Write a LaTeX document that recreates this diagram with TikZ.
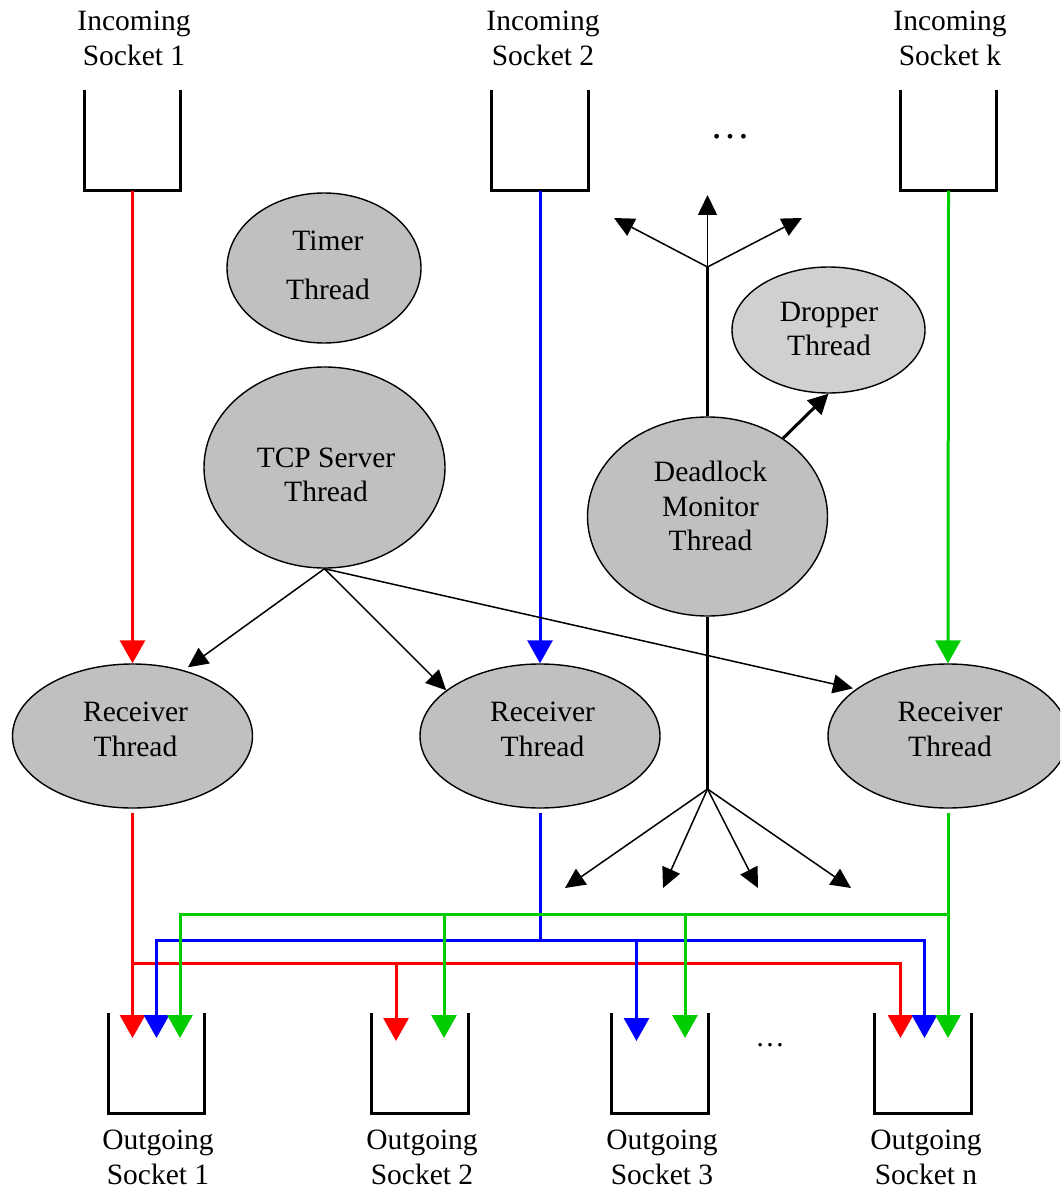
\documentclass[tikz,border=0pt]{standalone}
\usepackage{fontspec}
\setmainfont{Liberation Serif}
\usetikzlibrary{shapes.geometric,arrows.meta}
\definecolor{threadfill}{RGB}{192,192,192}
\definecolor{dropfill}{RGB}{208,208,208}
\definecolor{wred}{RGB}{255,0,0}
\definecolor{wblue}{RGB}{0,0,255}
\definecolor{wgreen}{RGB}{0,204,0}

\begin{document}
\begin{tikzpicture}[x=1pt,y=-1pt,
  txt/.style={font=\fontsize{29.5}{34.5}\selectfont, align=center, inner sep=0pt},
  thread/.style={ellipse, draw, line width=1.4pt, fill=threadfill, inner sep=0pt},
  sock/.style={rectangle, minimum width=96.5pt, minimum height=100pt, inner sep=0pt},
  sockline/.style={line width=3pt, line join=miter},
  wire/.style={line width=3pt, -{Triangle[length=23pt,width=25pt]}},
  bus/.style={line width=3pt},
  ctl/.style={line width=1.5pt, -{Triangle[length=20pt,width=19pt]}},
  trunk/.style={line width=3pt},
]
\clip (0,0) rectangle (1060,1190);

% ---------------- incoming sockets ----------------
\node[sock] (i1) at (132.5,140.5) {};
\node[sock] (i2) at (540,140.5) {};
\node[sock] (ik) at (948.5,140.5) {};
\foreach \s in {i1,i2,ik}
  \draw[sockline] (\s.north west) -- (\s.south west) -- (\s.south east) -- (\s.north east);
\node[txt] (li1) at (134,38.3) {Incoming\\Socket 1};
\node[txt] (li2) at (543,38.3) {Incoming\\Socket 2};
\node[txt] (lik) at (950,38.3) {Incoming\\Socket k};
\node[font=\fontsize{40}{40}\selectfont, anchor=base, inner sep=0pt] (dotsin) at (730,139) {\dots};

% ---------------- threads ----------------
\node[thread, minimum width=194pt, minimum height=150pt] (tm) at (324,268) {};
\node[txt, font=\fontsize{29.5}{48.6}\selectfont] (tmt) at (328,265.2) {Timer\\Thread};

\node[thread, minimum width=241pt, minimum height=201pt] (tcp) at (324.5,467.5) {};
\node[txt] (tcpt) at (326,474.7) {TCP Server\\Thread};

\node[thread, fill=dropfill, minimum width=193pt, minimum height=126pt] (dr) at (828.5,330) {};
\node[txt] (drt) at (829,329.1) {Dropper\\Thread};

\node[thread, minimum width=240pt, minimum height=199pt] (dm) at (707.5,516.5) {};
\node[txt] (dmt) at (710.5,506.2) {Deadlock\\Monitor\\Thread};

\node[thread, minimum width=240pt, minimum height=144pt] (r1) at (132.5,736) {};
\node[thread, minimum width=240pt, minimum height=144pt] (r2) at (540,736) {};
\node[thread, minimum width=240pt, minimum height=144pt] (r3) at (948,736) {};
\node[txt] (r1t) at (135.5,729.6) {Receiver\\Thread};
\node[txt] (r2t) at (542.5,729.6) {Receiver\\Thread};
\node[txt] (r3t) at (950,729.6) {Receiver\\Thread};

% ---------------- outgoing sockets ----------------
\node[sock] (o1) at (156.5,1063) {};
\node[sock] (o2) at (420,1063) {};
\node[sock] (o3) at (660,1063) {};
\node[sock] (on) at (923,1063) {};
\foreach \s in {o1,o2,o3,on}
  \draw[sockline] (\s.north west) -- (\s.south west) -- (\s.south east) -- (\s.north east);
\node[txt] (lo1) at (158,1157.5) {Outgoing\\Socket 1};
\node[txt] (lo2) at (422,1157.5) {Outgoing\\Socket 2};
\node[txt] (lo3) at (662,1157.5) {Outgoing\\Socket 3};
\node[txt] (lon) at (926,1157.5) {Outgoing\\Socket n};
\node[font=\fontsize{29.5}{29.5}\selectfont, anchor=base, inner sep=0pt] (dotsout) at (770,1046.5) {\dots};

% ---------------- incoming data paths ----------------
\draw[wire, wred]   (i1.south) -- (r1.north);
\draw[wire, wblue]  (i2.south) -- (r2.north);
\draw[wire, wgreen] (ik.south) -- (r3.north);

% ---------------- TCP server spawns receivers ----------------
\draw[ctl, shorten >=5pt] (tcp.south) -- (r1.52);
\draw[ctl] (tcp.south) -- (r2.154);
\draw[ctl, shorten >=3pt] (tcp.south) -- (r3.153);

% ---------------- deadlock monitor ----------------
\coordinate (jup) at (707.5,267);
\coordinate (jdn) at (707.5,789);
\coordinate (u1) at (614,218);
\coordinate (u2) at (707.5,195);
\coordinate (u3) at (802,218);
\coordinate (d1) at (565,888);
\coordinate (d2) at (663,888);
\coordinate (d3) at (758,888);
\coordinate (d4) at (851,888);
\draw[trunk] (dm.north) -- (jup);
\draw[trunk] (dm.south) -- (jdn);
\foreach \t in {u1,u2,u3} \draw[ctl] (jup) -- (\t);
\foreach \t in {d1,d2,d3,d4} \draw[ctl] (jdn) -- (\t);
\draw[line width=3pt, -{Triangle[length=20pt,width=20pt]}] (dm.46) -- (dr.south);

% ---------------- outgoing data paths ----------------
\coordinate (o1r) at (132.5,1038);
\coordinate (o1b) at (156.5,1038);
\coordinate (o1g) at (180,1038);
\coordinate (o2r) at (396,1041);
\coordinate (o2g) at (444,1038);
\coordinate (o3b) at (636.5,1041);
\coordinate (o3g) at (685,1038);
\coordinate (onr) at (900.5,1038);
\coordinate (onb) at (924.5,1038);
\coordinate (ong) at (948,1038);
\coordinate (busR) at (132.5,963);
\coordinate (busB) at (540,940);
\coordinate (busG) at (948,914);

% red: receiver 1
\draw[wire, wred] ([yshift=-4pt]r1.south) -- (o1r);
\draw[wire, wred] (busR) -| (onr);
\draw[wire, wred] (busR -| o2r) -- (o2r);

% blue: receiver 2
\draw[bus, wblue] ([yshift=-4pt]r2.south) -- (busB);
\draw[wire, wblue] (busB) -| (o1b);
\draw[wire, wblue] (busB) -| (onb);
\draw[wire, wblue] (busB -| o3b) -- (o3b);

% green: receiver 3
\draw[wire, wgreen] ([yshift=-4pt]r3.south) -- (ong);
\draw[wire, wgreen] (busG) -| (o1g);
\draw[wire, wgreen] (busG -| o2g) -- (o2g);
\draw[wire, wgreen] (busG -| o3g) -- (o3g);
\end{tikzpicture}
\end{document}
